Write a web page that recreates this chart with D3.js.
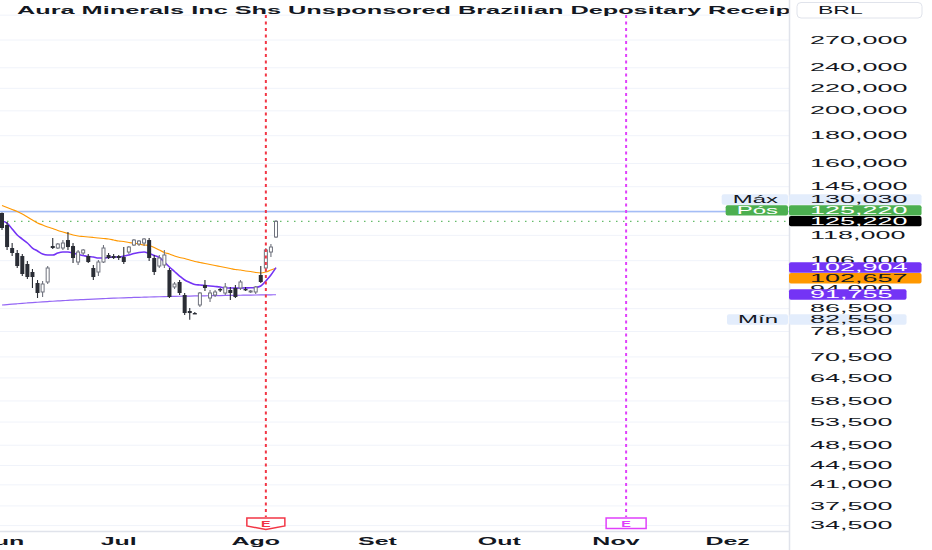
<!DOCTYPE html>
<html><head><meta charset="utf-8">
<script src="https://cdn.jsdelivr.net/npm/d3@7"></script>
<style>html,body{margin:0;padding:0;background:#fff;overflow:hidden}svg{display:block;font-family:"Liberation Sans",Arial,sans-serif}</style>
</head><body><svg id="c" width="932" height="550"></svg>
<script>
const title = "Aura Minerals Inc Shs Unsponsored Brazilian Depositary Receipts";
const currency = "BRL";
const opens  = [129720,123290,111840,109500,108110,104510,101030,96430,92830,96840,112790,111840,111840,115690,112790,105400,109500,108110,102760,101030,105400,108570,108110,108110,107650,109960,113270,113750,114230,115690,107200,103630,104070,101890,94820,96840,91650,85640,84910,87850,95620,90490,91650,94020,92430,93620,94420,94420,94020,92830,92830,99750,102760,109960,117180];
const highs  = [130030,124870,114230,110900,109030,105850,102320,97660,97250,103630,116680,114230,115690,119690,114230,110900,111370,109030,104070,106300,113270,109500,109030,108570,112310,112790,116190,115690,116680,116680,108570,108570,110900,102760,96840,97660,92430,86740,85280,92830,97660,93620,93620,94420,96430,94820,95620,97660,94820,93620,95210,103630,111840,113750,125930];
const lows   = [120710,110900,108110,102760,99330,98080,94420,90490,90870,96020,111370,111370,110900,110900,104960,104070,108570,104960,97660,99330,104960,106750,106750,106300,104510,109030,112790,112790,112790,105850,99750,102760,102760,90490,94020,91650,84200,82550,84550,87110,93230,88970,90870,92830,91650,89730,90490,93620,93230,92430,92040,96430,101030,107650,116680];
const closes = [121740,112310,109500,103630,100180,98910,98910,92430,96020,102760,111840,113750,114230,112310,107200,109960,110900,105400,98910,105400,111840,107200,107200,107200,105400,112310,115690,115200,116190,107200,101030,107200,108570,90870,96020,92430,84910,84910,84730,92430,94420,92430,92830,93430,94820,92430,90870,96840,93620,93230,94820,96840,110900,112310,125220];
const maOrange = [133900,132780,131660,130540,129170,127540,125930,124340,123290,122250,121480,120450,119690,118930,118170,117670,117430,117180,116930,116680,116430,116190,115690,115200,114960,114470,114230,113750,113270,113030,112070,110900,109730,109030,108110,107430,106970,106300,105630,105180,104740,104290,103850,103410,102970,102540,102110,101890,101460,101250,100820,100600,101030,101890,102657];
const maPurple = [125400,124340,121220,118170,116190,114230,111840,110430,109030,108570,108570,109500,109960,109960,109500,108800,108340,107880,107650,107200,107200,107430,107650,107650,108110,108570,109260,109730,109960,109260,108340,107430,105400,103190,101250,99330,97660,96640,95820,95620,95420,95210,95020,94820,94420,94420,94380,94400,94450,94500,94620,95210,97250,99750,102904];
const maLong = [87850,88010,88170,88320,88470,88610,88750,88880,89010,89140,89260,89380,89490,89600,89710,89810,89910,90000,90090,90180,90260,90340,90420,90490,90560,90630,90700,90760,90820,90880,90930,90980,91030,91080,91120,91160,91200,91240,91280,91320,91350,91380,91410,91440,91470,91500,91530,91560,91590,91620,91650,91680,91700,91730,91755];
const priceTicks = [270000,240000,220000,200000,180000,160000,145000,118000,106000,94000,86500,78500,70500,64500,58500,53500,48500,44500,41000,37500,34500];
const gridOnlyTicks = [300000,130000];
const monthLabels = ["Jun","Jul","Ago","Set","Out","Nov","Dez"];
const monthIndex = [0,23,50,74,98,121,143];
const earningsIndex = [52,123];
const earningsLabel = "E";
const maxPrice = 130030, minPrice = 82550, lastPrice = 125220;
const maxTag = "Máx", posTag = "Pós", minTag = "Mín";

const W = 932, H = 550, PX = 789, PY = 531;
const SXN = 2.7, SXT = 2.5;
const svg = d3.select("#c");
const x = d3.scaleLinear().domain([0, closes.length - 1]).range([2, 276]);
const y = d3.scaleLog().domain([34500, 270000]).range([525.6, 40]);
const fmt = d3.format(",.0f");

function txt(g, s, px, py, o = {}) {
  const sx = o.sx || SXT;
  const t = g.append("text")
    .attr("transform", `translate(${px},${py}) scale(${sx},1)`)
    .attr("text-anchor", o.anchor || "start")
    .attr("font-size", o.size || 10)
    .attr("font-weight", o.weight || "normal")
    .attr("fill", o.fill || "#131722")
    .text(s);
  t.w = t.node().getComputedTextLength() * sx;
  return t;
}

const defs = svg.append("defs");
defs.append("clipPath").attr("id", "plot")
  .append("rect").attr("x", 0).attr("y", 0).attr("width", PX).attr("height", PY);
const plot = svg.append("g").attr("clip-path", "url(#plot)");

// grid
plot.selectAll("line.grid").data(priceTicks.concat(gridOnlyTicks)).join("line")
  .attr("x1", 0).attr("x2", PX).attr("y1", d => y(d)).attr("y2", d => y(d))
  .attr("stroke", "#f0f3fa").attr("stroke-width", 1);

// max line & last price line
plot.append("line").attr("x1", 0).attr("x2", PX).attr("y1", y(maxPrice) - 1).attr("y2", y(maxPrice) - 1)
  .attr("stroke", "#a4bdf6").attr("stroke-width", 1.5);
plot.append("line").attr("x1", 0).attr("x2", PX).attr("y1", y(lastPrice)).attr("y2", y(lastPrice))
  .attr("stroke", "#66bb6a").attr("stroke-width", 1.3).attr("stroke-dasharray", "1.5,5.5");

// moving averages
const line = d3.line().x((d, i) => x(i)).y(d => y(d)).curve(d3.curveMonotoneX);
plot.append("path").attr("d", line(maLong)).attr("fill", "none").attr("stroke", "#9466f5").attr("stroke-width", 1.2);
plot.append("path").attr("d", line(maOrange)).attr("fill", "none").attr("stroke", "#ff9800").attr("stroke-width", 1.2);
plot.append("path").attr("d", line(maPurple)).attr("fill", "none").attr("stroke", "#7434f5").attr("stroke-width", 1.6);

// candles
const idx = d3.range(closes.length);
const bw = 4;
const cg = plot.append("g");
idx.forEach(i => {
  const up = closes[i] >= opens[i];
  const col = up ? "#6f727d" : "#2a2d35";
  const top = y(Math.max(opens[i], closes[i])), bot = y(Math.min(opens[i], closes[i]));
  cg.append("line").attr("x1", x(i)).attr("x2", x(i)).attr("y1", y(highs[i])).attr("y2", y(lows[i]))
    .attr("stroke", col).attr("stroke-width", 1.1);
  if (up) {
    cg.append("rect").attr("x", x(i) - bw / 2 + 0.5).attr("y", top).attr("width", bw - 1).attr("height", Math.max(1, bot - top))
      .attr("fill", "#fff").attr("stroke", col).attr("stroke-width", 1);
  } else {
    cg.append("rect").attr("x", x(i) - bw / 2).attr("y", top).attr("width", bw).attr("height", Math.max(1.4, bot - top))
      .attr("fill", col);
  }
});

// earnings lines
const eCols = ["#f23645", "#e040fb"];
earningsIndex.forEach((ei, k) => {
  plot.append("line").attr("x1", x(ei)).attr("x2", x(ei)).attr("y1", 15).attr("y2", 517)
    .attr("stroke", eCols[k]).attr("stroke-width", 2).attr("stroke-dasharray", "3,3.5");
});

// title (clipped by the price-axis pane)
const tg = svg.append("g").attr("clip-path", "url(#plot)");
txt(tg, title, 17, 13.5, { weight: "bold", sx: 2.53 });

// axis panels
svg.append("rect").attr("x", PX).attr("y", 0).attr("width", W - PX).attr("height", H).attr("fill", "#fff");
svg.append("rect").attr("x", 0).attr("y", PY).attr("width", PX).attr("height", H - PY).attr("fill", "#fff");
svg.append("line").attr("x1", PX + 0.5).attr("x2", PX + 0.5).attr("y1", 0).attr("y2", H).attr("stroke", "#e0e3eb").attr("stroke-width", 1.5);
svg.append("line").attr("x1", 0).attr("x2", PX).attr("y1", PY + 0.5).attr("y2", PY + 0.5).attr("stroke", "#e0e3eb").attr("stroke-width", 1.5);

// earnings markers
earningsIndex.forEach((ei, k) => {
  const cx = x(ei);
  if (k === 0) {
    svg.append("path").attr("d", `M${cx - 19},518 H${cx + 19} V526 L${cx},529.5 L${cx - 19},526 Z`)
      .attr("fill", "#fff").attr("stroke", eCols[k]).attr("stroke-width", 1.5);
  } else {
    svg.append("rect").attr("x", cx - 20).attr("y", 518).attr("width", 40).attr("height", 10.5)
      .attr("fill", "#fff").attr("stroke", eCols[k]).attr("stroke-width", 1.5);
  }
  txt(svg, earningsLabel, cx, 526.8, { anchor: "middle", size: 9, weight: "bold", fill: eCols[k], sx: 1.6 });
});

// price axis labels
const ax = svg.append("g");
priceTicks.forEach(v => txt(ax, fmt(v), 810, y(v) + 3.6, { sx: SXN }));

// price label boxes with overlap avoidance
const LH = 10.8;
const labels = [
  { v: lastPrice, bg: "#000000", fg: "#ffffff", dir: 0 },
  { v: maPurple[maPurple.length - 1], bg: "#7434f5", fg: "#ffffff", dir: 0 },
  { v: maOrange[maOrange.length - 1], bg: "#ff9800", fg: "#131722", dir: 1 },
  { v: maLong[maLong.length - 1], bg: "#7434f5", fg: "#ffffff", dir: 1 },
  { v: minPrice, bg: "#e3edfc", fg: "#131722", dir: 1, tag: minTag },
  { v: lastPrice, bg: "#4caf50", fg: "#ffffff", dir: -1, tag: posTag },
  { v: maxPrice, bg: "#e3edfc", fg: "#131722", dir: -1, tag: maxTag }
];
const placed = [];
labels.forEach(l => {
  let yc = y(l.v), moved = true, guard = 0;
  while (moved && guard++ < 20) {
    moved = false;
    for (const p of placed) {
      if (Math.abs(yc - p) < LH - 0.01) { yc = l.dir < 0 ? p - LH : p + LH; moved = true; }
    }
  }
  placed.push(yc);
  l.yc = yc;
});
labels.forEach(l => {
  const g = svg.append("g");
  const r = g.append("rect").attr("fill", l.bg).attr("rx", 2);
  const t = txt(g, fmt(l.v), 810, l.yc + 3.6, { sx: SXN, fill: l.fg });
  r.attr("x", PX).attr("y", l.yc - LH / 2).attr("width", 810 + t.w + 14 - PX).attr("height", LH - 0.4);
  if (l.tag) {
    const g2 = svg.append("g");
    const r2 = g2.append("rect").attr("fill", l.bg).attr("rx", 2);
    const t2 = txt(g2, l.tag, 778, l.yc + 3.6, { anchor: "end", fill: l.fg, sx: 2.4 });
    r2.attr("x", 778 - t2.w - 11).attr("y", l.yc - LH / 2).attr("width", t2.w + 21).attr("height", LH - 0.4);
  }
});

// time axis labels
monthLabels.forEach((m, k) => txt(svg, m, x(monthIndex[k]), 545, { anchor: "middle", weight: "bold", sx: 2.5 }));

// currency box
svg.append("rect").attr("x", 797).attr("y", 2.5).attr("width", 125).attr("height", 15.5).attr("rx", 4)
  .attr("fill", "#fff").attr("stroke", "#e0e3eb");
txt(svg, currency, 818, 14, { sx: 2.3 });
</script></body></html>
